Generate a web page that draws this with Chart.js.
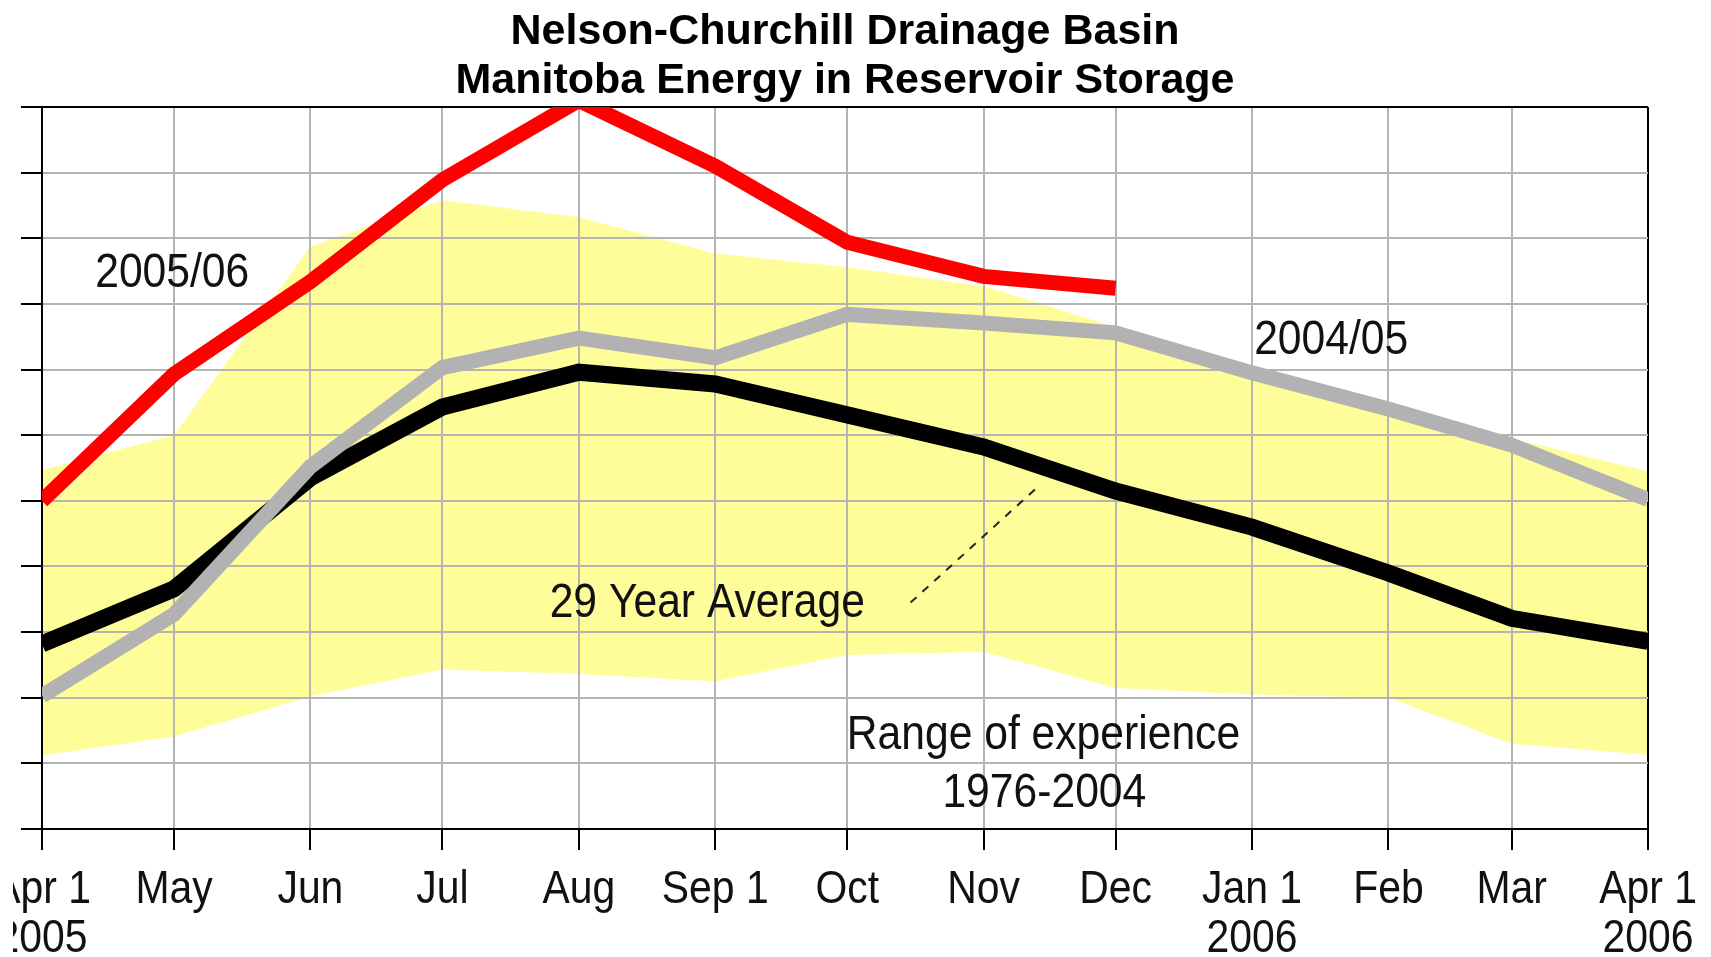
<!DOCTYPE html>
<html>
<head>
<meta charset="utf-8">
<title>Manitoba Energy in Reservoir Storage</title>
<script src="https://cdn.jsdelivr.net/npm/chart.js@4.4.1/dist/chart.umd.min.js"></script>
<style>
  html, body { margin: 0; padding: 0; background: #fff; overflow: hidden; }
  #wrap { position: relative; width: 1711px; height: 957px; }
</style>
</head>
<body>
<div id="wrap"><canvas id="storageChart"></canvas></div>
<script>
// days after Apr 1 2005 for each month start
var dayOffsets = [0, 30, 61, 91, 122, 153, 183, 214, 244, 275, 306, 334, 365];
var tickLabels = [['Apr 1', '2005'], 'May', 'Jun', 'Jul', 'Aug', 'Sep 1', 'Oct', 'Nov', 'Dec',
                  ['Jan 1', '2006'], 'Feb', 'Mar', ['Apr 1', '2006']];

// energy in storage, one unit = one grid step (axis has no numbers)
var season0506 = [5.0, 6.93, 8.34, 9.89, 11.1, 10.1, 8.94, 8.42, 8.24];
var season0405 = [2.03, 3.27, 5.52, 7.03, 7.48, 7.18, 7.84, 7.71, 7.56, 6.95, 6.40, 5.85, 5.02];
var average29 = [2.82, 3.66, 5.35, 6.43, 6.96, 6.78, 6.31, 5.82, 5.15, 4.60, 3.90, 3.21, 2.86];
var rangeHigh = [5.47, 6.0, 8.87, 9.58, 9.32, 8.77, 8.56, 8.27, 7.65, 7.05, 6.5, 5.95, 5.45];
var rangeLow = [1.12, 1.41, 2.02, 2.43, 2.36, 2.25, 2.65, 2.70, 2.15, 2.05, 2.0, 1.30, 1.13];

// text notes placed in data units (day, storage)
var noteText = ['2005/06', '2004/05', '29 Year Average', 'Range of experience', '1976-2004'];
var noteDay = [29.6, 293.0, 151.2, 227.6, 227.8];
var noteValue = [8.46, 7.44, 3.44, 1.42, 0.54];
var leaderDay = [197.4, 226.6];
var leaderValue = [3.45, 5.23];

var sans = "'Liberation Sans', Arial, sans-serif";
var squeeze = 0.87; // original lettering is a condensed Arial

// linear axis whose tick labels are drawn horizontally condensed
class NarrowLinearScale extends Chart.LinearScale {
  drawLabels(chartArea) {
    if (!this.options.ticks.display) return;
    var ctx = this.ctx;
    ctx.save();
    // the source picture is cropped a little on the left
    ctx.beginPath();
    ctx.rect(13, 0, this.chart.width, this.chart.height);
    ctx.clip();
    this.getLabelItems(chartArea).forEach(function(item) {
      var o = item.options;
      var lines = Array.isArray(item.label) ? item.label : [item.label];
      var y = item.textOffset;
      ctx.save();
      ctx.translate(o.translation[0], o.translation[1]);
      ctx.scale(squeeze, 1);
      ctx.font = item.font.string;
      ctx.fillStyle = o.color;
      ctx.textAlign = o.textAlign;
      ctx.textBaseline = o.textBaseline;
      lines.forEach(function(line) {
        ctx.fillText(line, 0, y);
        y += item.font.lineHeight;
      });
      ctx.restore();
    });
    ctx.restore();
  }
}
NarrowLinearScale.id = 'narrowLinear';
NarrowLinearScale.defaults = Chart.LinearScale.defaults;
Chart.register(NarrowLinearScale);

function pts(values) {
  return values.map(function(v, i) { return { x: dayOffsets[i], y: v }; });
}

var notesPlugin = {
  id: 'notes',
  afterDatasetsDraw: function(chart) {
    var ctx = chart.ctx;
    var xs = chart.scales.x, ys = chart.scales.y;
    ctx.save();
    ctx.fillStyle = '#111';
    ctx.font = '49px ' + sans;
    ctx.textAlign = 'center';
    ctx.textBaseline = 'middle';
    for (var i = 0; i < noteText.length; i++) {
      ctx.save();
      ctx.translate(xs.getPixelForValue(noteDay[i]), ys.getPixelForValue(noteValue[i]));
      ctx.scale(squeeze, 1);
      ctx.fillText(noteText[i], 0, 0);
      ctx.restore();
    }
    // dashed pointer to the average line
    ctx.strokeStyle = '#222';
    ctx.lineWidth = 2;
    ctx.setLineDash([8, 8]);
    ctx.beginPath();
    ctx.moveTo(xs.getPixelForValue(leaderDay[0]), ys.getPixelForValue(leaderValue[0]));
    ctx.lineTo(xs.getPixelForValue(leaderDay[1]), ys.getPixelForValue(leaderValue[1]));
    ctx.stroke();
    ctx.restore();
  }
};

var ctx = document.getElementById('storageChart').getContext('2d');
var chart = new Chart(ctx, {
  type: 'line',
  data: {
    datasets: [{
      label: '2005/06',
      data: pts(season0506),
      borderColor: '#ff0000',
      borderWidth: 15,
      pointRadius: 0,
      tension: 0,
      order: 0
    }, {
      label: '2004/05',
      data: pts(season0405),
      borderColor: '#b2b2b2',
      borderWidth: 15,
      pointRadius: 0,
      tension: 0,
      order: 1
    }, {
      label: '29 Year Average',
      data: pts(average29),
      borderColor: '#000000',
      borderWidth: 17,
      pointRadius: 0,
      tension: 0,
      order: 2
    }, {
      label: 'Range high',
      data: pts(rangeHigh),
      borderWidth: 0,
      borderColor: 'rgba(0,0,0,0)',
      backgroundColor: '#fffd99',
      pointRadius: 0,
      tension: 0,
      fill: '+1',
      order: 3
    }, {
      label: 'Range low',
      data: pts(rangeLow),
      borderWidth: 0,
      borderColor: 'rgba(0,0,0,0)',
      pointRadius: 0,
      tension: 0,
      fill: false,
      order: 4
    }]
  },
  options: {
    responsive: true,
    maintainAspectRatio: false,
    animation: false,
    events: [],
    layout: { padding: { left: 0, right: 63, top: 0, bottom: 0 } },
    plugins: {
      legend: { display: false },
      tooltip: { enabled: false },
      filler: { drawTime: 'beforeDraw' },
      title: {
        display: true,
        fullSize: false,
        text: ['Nelson-Churchill Drainage Basin', 'Manitoba Energy in Reservoir Storage'],
        color: '#000',
        font: { family: sans, size: 43, weight: 'bold', lineHeight: 1.14 },
        padding: { top: 8, bottom: 1 }
      }
    },
    scales: {
      x: {
        type: 'narrowLinear',
        min: 0,
        max: 365,
        afterBuildTicks: function(scale) {
          scale.ticks = dayOffsets.map(function(d) { return { value: d }; });
        },
        afterFit: function(scale) {
          scale.height = 128;
          scale.paddingLeft = 0;
          scale.paddingRight = 0;
        },
        ticks: {
          autoSkip: false,
          maxRotation: 0,
          padding: 16,
          color: '#111',
          font: { family: sans, size: 47, lineHeight: 1.04 },
          callback: function(value, index) { return tickLabels[index]; }
        },
        grid: {
          color: function(c) { return c.index === dayOffsets.length - 1 ? '#000' : '#b4b4b4'; },
          lineWidth: 2,
          tickColor: '#000',
          tickLength: 21
        },
        border: { color: '#000', width: 2 }
      },
      y: {
        min: 0,
        max: 11,
        ticks: { stepSize: 1, display: false },
        afterFit: function(scale) { scale.width = 42; },
        grid: {
          color: function(c) { return c.index === 11 ? '#000' : '#b4b4b4'; },
          lineWidth: 2,
          tickColor: '#000',
          tickLength: 21
        },
        border: { color: '#000', width: 2 }
      }
    }
  },
  plugins: [notesPlugin]
});
</script>
</body>
</html>
